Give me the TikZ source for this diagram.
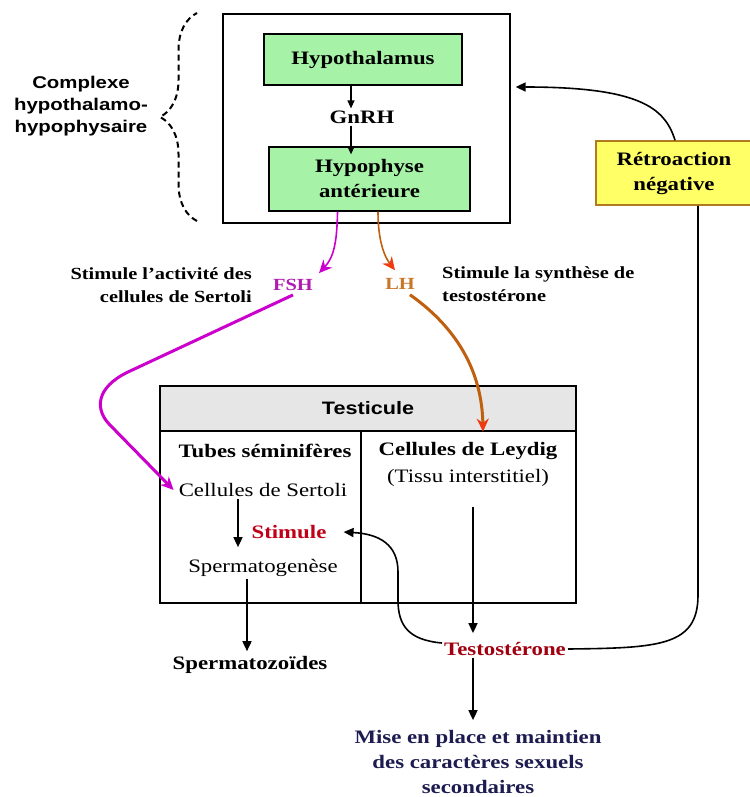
\documentclass[tikz,border=0pt]{standalone}
\usepackage{fontspec}
\setmainfont{Liberation Serif}[FakeStretch=1.2]
\setsansfont{Liberation Sans}[FakeStretch=1.2]
\usepackage{xcolor}
\definecolor{hgreen}{HTML}{A6F2A6}
\definecolor{fbyellow}{HTML}{FFFF66}
\definecolor{fbedge}{HTML}{B07A1E}
\definecolor{hdgray}{HTML}{E6E6E6}
\definecolor{fshmag}{HTML}{CC00CC}
\definecolor{fshtext}{HTML}{B01CB0}
\definecolor{lhbrown}{HTML}{C0600F}
\definecolor{lhtext}{HTML}{C8762A}
\definecolor{lhred}{HTML}{F03A10}
\definecolor{stimred}{HTML}{C00018}
\definecolor{testored}{HTML}{A00010}
\definecolor{misenavy}{HTML}{1C1C50}
\usepackage{tikz}
\usetikzlibrary{arrows.meta, decorations.pathreplacing}
\tikzset{
  cbox/.style ={rectangle, draw=black, line width=1.3pt, inner sep=0pt},
  gbox/.style ={rectangle, draw=black, line width=1.3pt, fill=hgreen, align=center, inner sep=2pt,
                font=\bfseries\fontsize{19}{25}\selectfont},
  fbbox/.style={rectangle, draw=fbedge, line width=1.5pt, fill=fbyellow, align=center, inner sep=2pt,
                font=\bfseries\fontsize{19}{25}\selectfont},
  hdbox/.style={rectangle, draw=black, line width=1.3pt, fill=hdgray, inner sep=2pt,
                font=\sffamily\bfseries\fontsize{18}{22}\selectfont},
  txt/.style  ={inner sep=2pt, font=\fontsize{19}{25}\selectfont},
  btxt/.style ={inner sep=2pt, font=\bfseries\fontsize{19}{25}\selectfont},
  slbl/.style ={inner sep=2pt, font=\bfseries\fontsize{17}{23}\selectfont},
  sbtxt/.style={inner sep=2pt, align=center, font=\sffamily\bfseries\fontsize{17}{22}\selectfont},
  brc/.style  ={decorate, decoration={brace, amplitude=37pt}, dash pattern=on 6pt off 4pt, line width=2pt},
  karr/.style ={-{Triangle[length=10pt,width=9pt]}, line width=1.6pt},
  sarr/.style ={-{Triangle[length=8pt,width=7pt]}, line width=1.2pt},
  marr/.style ={-{Stealth[length=13pt,width=12pt]}, color=fshmag},
  larr/.style ={-{Stealth[length=13pt,width=12pt,color=lhred]}, color=lhbrown},
  fbline/.style={line width=1.6pt},
}
\begin{document}
\begin{tikzpicture}[x=1pt, y=-1pt]
  \useasboundingbox[fill=white] (0,0) rectangle (749,797);
  \node[cbox, minimum width=287pt, minimum height=209pt] (cplx) at (366.5,118.5) {};
  \node[gbox, minimum width=198pt, minimum height=51pt] (h1) at (363,59.5) {Hypothalamus};
  \node[btxt] (gn) at (362,117) {GnRH};
  \node[gbox, minimum width=201pt, minimum height=64pt] (h2) at (369.5,179) {Hypophyse\\antérieure};
  \draw[sarr] ([xshift=-12pt]h1.south) -- ([xshift=-11pt]gn.north);
  \draw[sarr] ([xshift=-11pt]gn.south) -- ([xshift=-18.5pt,yshift=-8pt]h2.north);
  \draw[brc] (197,221) -- (197,13);
  \node[sbtxt] (cx) at (81,106) {Complexe\\hypothalamo-\\hypophysaire};
  \node[fbbox, minimum width=156pt, minimum height=64pt] (rn) at (674,173) {Rétroaction\\négative};
  \node[slbl, text=fshtext] (fsh) at (293,285) {FSH};
  \node[slbl, text=lhtext] (lh) at (400,284) {LH};
  \node[slbl, align=right, anchor=east] (fl) at (254,285) {Stimule l'activité des\\cellules de Sertoli};
  \node[slbl, align=left, anchor=west] (ll) at (440,284) {Stimule la synthèse de\\testostérone};
  \node[hdbox, minimum width=416pt, minimum height=45pt] (hd) at (368,408.5) {Testicule};
  \node[cbox, minimum width=201pt, minimum height=172pt] (lc) at (260.5,517) {};
  \node[cbox, minimum width=215pt, minimum height=172pt] (rc) at (468.5,517) {};
  \node[btxt] (ts) at (265,451) {Tubes séminifères};
  \node[txt] (cs) at (263,490) {Cellules de Sertoli};
  \node[btxt, text=stimred] (st) at (289,532) {Stimule};
  \node[txt] (sp) at (263,568) {Spermatogenèse};
  \node[btxt] (cl) at (468,451) {Cellules de Leydig};
  \node[txt] (ti) at (468,478) {(Tissu interstitiel)};
  \node[btxt] (sz) at (250,665) {Spermatozoïdes};
  \node[btxt, text=testored] (tt) at (505,649) {Testostérone};
  \node[btxt, text=misenavy, align=center] (mp) at (478,762) {Mise en place et maintien\\des caractères sexuels\\secondaires};
  \draw[marr, line width=1.6pt] ([xshift=-32pt]h2.south) .. controls (337,245) and (333,258) .. ([xshift=4pt,yshift=4pt]fsh.north east);
  \draw[marr, line width=3pt] ([yshift=-2pt]fsh.south) -- (128,372) .. controls (95,388) and (95,410) .. (110,425) -- ([xshift=-3pt]cs.west);
  \draw[larr, line width=1.6pt] ([xshift=8.5pt]h2.south) .. controls (378,240) and (384,256) .. ([xshift=-5pt,yshift=6pt]lh.north);
  \draw[larr, line width=3pt] ([xshift=10pt,yshift=-3pt]lh.south) .. controls (460,330) and (482,375) .. ([xshift=115pt]hd.south);
  \draw[karr] ([xshift=-25pt]cs.south) -- ([xshift=-25pt,yshift=10pt]sp.north);
  \draw[karr] ([xshift=-16pt]sp.south) -- ([xshift=-3pt,yshift=3pt]sz.north);
  \draw[karr] ([xshift=5pt,yshift=-18pt]ti.south) -- ([xshift=-32pt,yshift=7pt]tt.north);
  \draw[karr] ([xshift=-32pt]tt.south) -- ([xshift=-5pt,yshift=8pt]mp.north);
  \draw[karr] ([yshift=6pt]tt.west) .. controls (408,640) and (398,625) .. (398,600) -- (398,572) .. controls (398,545) and (380,534) .. ([xshift=15pt]st.east);
  \draw[fbline] (tt.east) .. controls (660,648) and (698,646) .. (698,595) -- ([xshift=24pt]rn.south);
  \draw[karr] ([xshift=1pt]rn.north) .. controls (665,108) and (640,87) .. ([xshift=5pt,yshift=31.5pt]cplx.east);
\end{tikzpicture}
\end{document}
